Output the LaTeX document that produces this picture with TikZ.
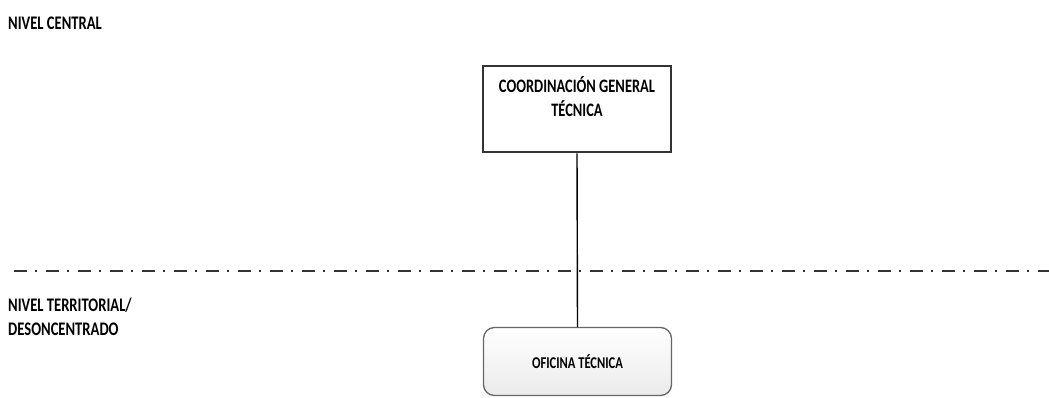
\documentclass[tikz,border=0pt]{standalone}
\usepackage{fontspec}
\setmainfont{Carlito}[FakeStretch=0.76]
\usetikzlibrary{shadows}
\begin{document}
\begin{tikzpicture}[x=1pt,y=1pt,
  leveltext/.style={anchor=base west, inner sep=0, font=\bfseries\fontsize{19.2}{24}\selectfont, align=left, text=black},
  topbox/.style={draw=black!80, line width=2.8pt, fill=white, minimum width=188pt, minimum height=86pt, inner sep=0,
     drop shadow={shadow xshift=1.2pt, shadow yshift=-1.2pt, opacity=0.35}},
  boxtext/.style={inner sep=0, font=\bfseries\fontsize{19}{24}\selectfont, align=center, text=black},
  officebox/.style={draw=black!60, line width=1.3pt, rounded corners=11pt, top color=white, bottom color=black!8,
     minimum width=188pt, minimum height=68pt, inner sep=0, font=\bfseries\fontsize{16.5}{20}\selectfont, text=black},
  divider/.style={draw=black!80, line width=2.8pt, dash pattern=on 13pt off 8pt on 2pt off 9pt},
  link/.style={draw=black, line width=1.4pt}
]
\useasboundingbox (0,0) rectangle (1049,-397);
\node[leveltext] (central) at (8,-29) {NIVEL CENTRAL};
\node[leveltext] (territorial) at (8,-335) {NIVEL TERRITORIAL/\\DESONCENTRADO};
\coordinate (dl) at (14,-271);
\coordinate (dr) at (1049,-271);
\draw[divider] (dl) -- (dr);
\node[topbox] (cgt) at (577,-109) {};
\node[boxtext, anchor=base] (cgttext) at (577,-116) {COORDINACIÓN GENERAL\\TÉCNICA};
\node[officebox] (ot) at (577.5,-361.5) {OFICINA TÉCNICA};
\draw[link] (cgt.south) -- (ot.north);
\end{tikzpicture}
\end{document}
